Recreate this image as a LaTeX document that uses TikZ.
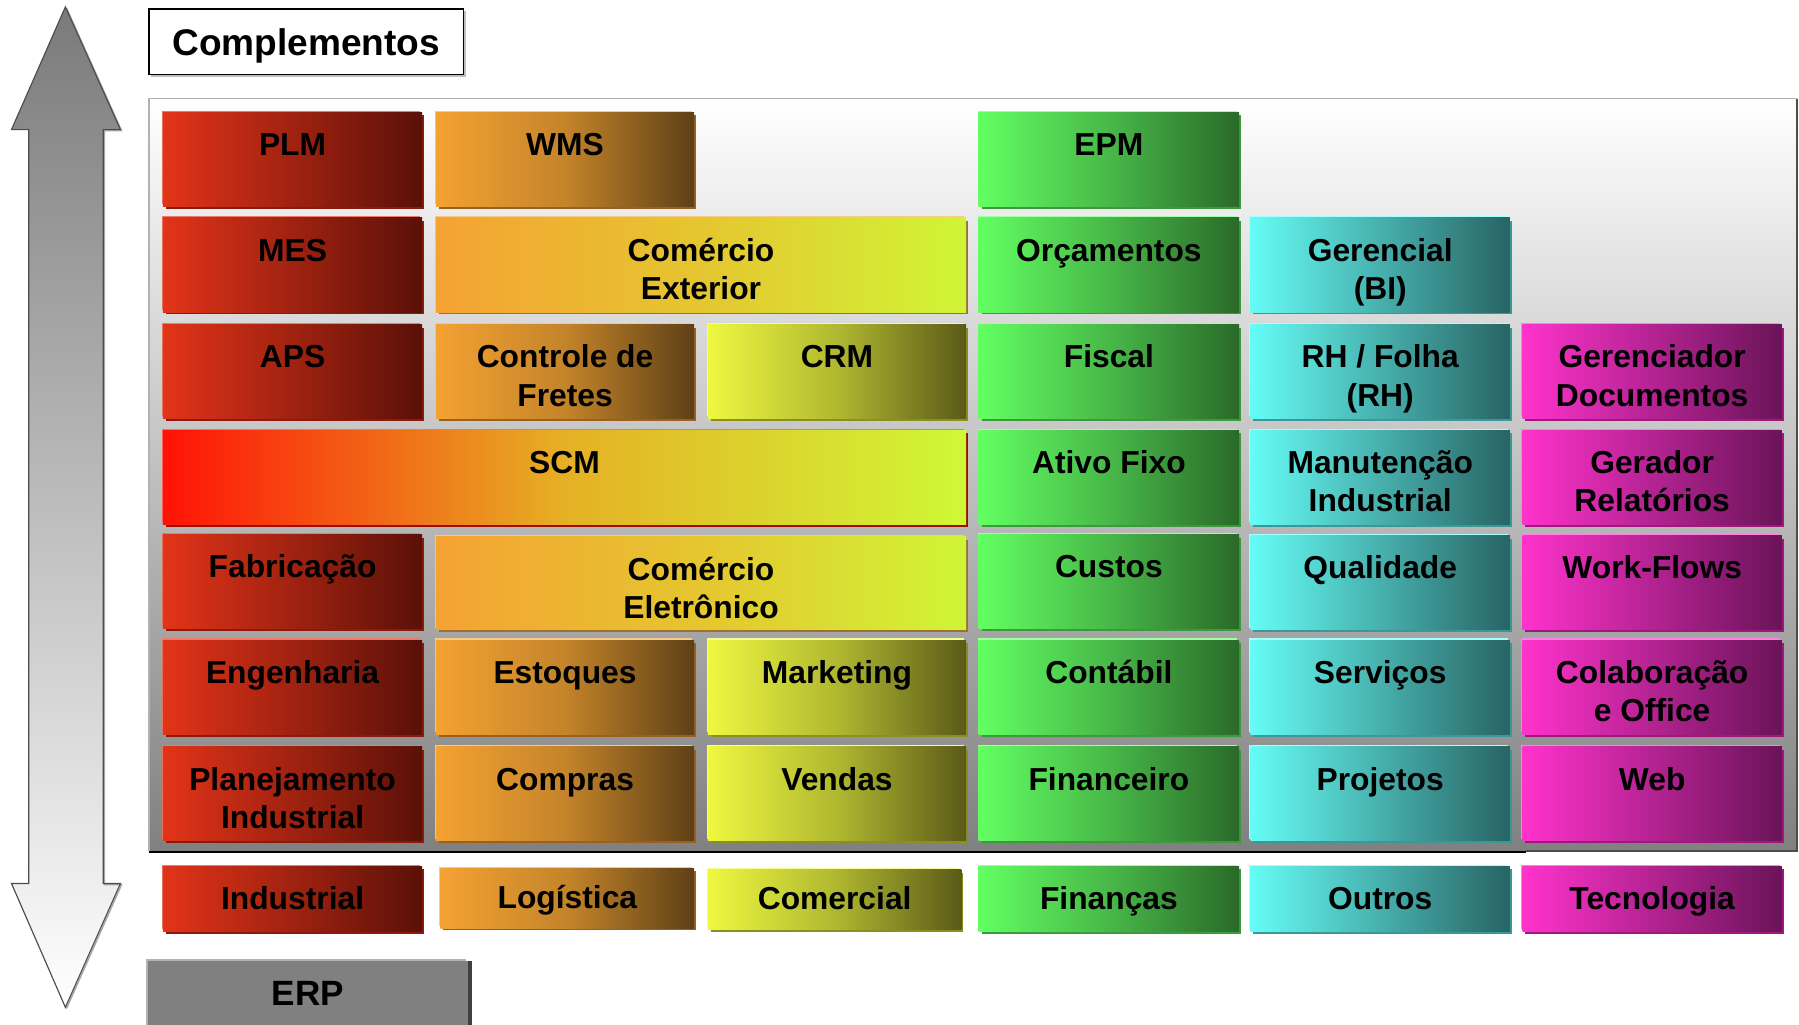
\documentclass[tikz,border=0pt]{standalone}
\usepackage{fontspec}
\setmainfont{Liberation Sans}
\newcommand\boxfont{\fontsize{27.7}{33.5}\selectfont\bfseries}
\newcommand\compfont{\fontsize{32.3}{38}\selectfont\bfseries}
\newcommand\erpfont{\fontsize{30.6}{36}\selectfont\bfseries}
% palettes: A left, B middle, C right, L highlight, S shadow
\definecolor{rA}{HTML}{E23418}\definecolor{rB}{HTML}{A02210}\definecolor{rC}{HTML}{5A1008}\definecolor{rL}{HTML}{EE7A68}\definecolor{rS}{HTML}{8C1A0C}
\definecolor{oA}{HTML}{F4A232}\definecolor{oB}{HTML}{C4842A}\definecolor{oC}{HTML}{5E4016}\definecolor{oL}{HTML}{F8CA88}\definecolor{oS}{HTML}{9A6020}
\definecolor{yA}{HTML}{EEF840}\definecolor{yB}{HTML}{B0B830}\definecolor{yC}{HTML}{5A5A18}\definecolor{yL}{HTML}{F6FB9A}\definecolor{yS}{HTML}{8A9020}
\definecolor{gA}{HTML}{62FF62}\definecolor{gB}{HTML}{48B848}\definecolor{gC}{HTML}{2A6A2A}\definecolor{gL}{HTML}{A4FFA4}\definecolor{gS}{HTML}{3C9A3C}
\definecolor{cA}{HTML}{66FCF6}\definecolor{cB}{HTML}{47B0AD}\definecolor{cC}{HTML}{286464}\definecolor{cL}{HTML}{A6FFFC}\definecolor{cS}{HTML}{3A9898}
\definecolor{mA}{HTML}{FF33CC}\definecolor{mB}{HTML}{B42392}\definecolor{mC}{HTML}{6A1458}\definecolor{mL}{HTML}{FF82E2}\definecolor{mS}{HTML}{A0187E}
\definecolor{eA}{HTML}{F5A233}\definecolor{eB}{HTML}{E5C630}\definecolor{eC}{HTML}{D0F535}\definecolor{eL}{HTML}{F8CA88}\definecolor{eS}{HTML}{A07030}
\definecolor{sA}{HTML}{FF1206}\definecolor{sB}{HTML}{E6B025}\definecolor{sC}{HTML}{D0F835}\definecolor{sL}{HTML}{FF7060}\definecolor{sS}{HTML}{A00C00}
\definecolor{erpgray}{HTML}{808080}
\tikzset{
  box/.style={inner sep=0pt, outer sep=0pt, draw=none, anchor=north west},
  lbl/.style={font=\boxfont, align=center, inner sep=0pt, anchor=north, text=black},
  pr/.style={left color=rA, right color=rC, middle color=rB}, pr sh/.style={fill=rS}, pr hl/.style={fill=rL},
  po/.style={left color=oA, right color=oC, middle color=oB}, po sh/.style={fill=oS}, po hl/.style={fill=oL},
  py/.style={left color=yA, right color=yC, middle color=yB}, py sh/.style={fill=yS}, py hl/.style={fill=yL},
  pg/.style={left color=gA, right color=gC, middle color=gB}, pg sh/.style={fill=gS}, pg hl/.style={fill=gL},
  pc/.style={left color=cA, right color=cC, middle color=cB}, pc sh/.style={fill=cS}, pc hl/.style={fill=cL},
  pm/.style={left color=mA, right color=mC, middle color=mB}, pm sh/.style={fill=mS}, pm hl/.style={fill=mL},
  pe/.style={left color=eA, right color=eC, middle color=eB}, pe sh/.style={fill=eS}, pe hl/.style={fill=eL},
  ps/.style={left color=sA, right color=sC, middle color=sB}, ps sh/.style={fill=sS}, ps hl/.style={fill=sL},
}
% name, x, y, w, h, palette, text (text at top)
\newcommand\modbox[7]{%
  \fill[#6 sh] (#2+2.5,#3+2.5) rectangle (#2+#4+1.5,#3+#5+2);
  \fill[#6 hl] (#2-1,#3-1.5) rectangle (#2+#4-2,#3+#5-2);
  \node[box,#6,minimum width=#4pt,minimum height=#5pt] (#1) at (#2,#3) {};
  \node[lbl] (#1-t) at ([yshift=-14pt]#1.north) {\strut #7};
}
% name, x, y, w, h, palette, text (text centred)
\newcommand\basebox[7]{%
  \fill[#6 sh] (#2+2.5,#3+2.5) rectangle (#2+#4+1.5,#3+#5+2);
  \fill[#6 hl] (#2-1,#3-1.5) rectangle (#2+#4-2,#3+#5-2);
  \node[box,#6,minimum width=#4pt,minimum height=#5pt,font=\boxfont,text height=18pt,text depth=0pt] (#1) at (#2,#3) {#7};
}
\begin{document}
\begin{tikzpicture}[x=1pt,y=-1pt]
\useasboundingbox (0,0) rectangle (1568,893);
% vertical double arrow
\shade[top color=black!52, bottom color=white]
  (57,6) -- (105,113) -- (90,113) -- (90,770) -- (105,770) -- (57,878)
  -- (10,770) -- (25,770) -- (25,113) -- (10,113) -- cycle;
\draw[black!35, line width=1.2]
  (58,7) -- (106,114) -- (91,114) -- (91,771) -- (106,771) -- (58,879);
\draw[black!70, line width=1]
  (57,6) -- (105,113) -- (90,113) -- (90,770) -- (105,770) -- (57,878)
  -- (10,770) -- (25,770) -- (25,113) -- (10,113) -- cycle;
% Complementos box
\fill[black!25] (132,10) rectangle (406,67);
\node[box, fill=white, draw=black, line width=1.5pt, minimum width=274pt, minimum height=57pt, font=\compfont, text height=23pt, text depth=0pt] (comp) at (130,8) {Complementos};
% main panel
\node[box, top color=white, bottom color=erpgray, minimum width=1436pt, minimum height=656pt] (panel) at (130,86) {};
\draw[black!30, line width=1.2] (panel.south west) -- (panel.north west) -- (panel.north east);
\draw[black!70, line width=1.5] (panel.north east) -- (panel.south east) -- (1330,742);
\draw[black, line width=1.8] (1330,743) -- (130,743);
% row 1
\modbox{plm}{142}{98}{226}{82}{pr}{PLM}
\modbox{wms}{380}{98}{225}{82}{po}{WMS}
\modbox{epm}{853}{98}{227}{82}{pg}{EPM}
% row 2
\modbox{mes}{142}{190}{226}{82}{pr}{MES}
\modbox{comext}{380}{190}{462}{82}{pe}{Comércio\\Exterior}
\modbox{orc}{853}{190}{227}{82}{pg}{Orçamentos}
\modbox{ger}{1090}{190}{226}{82}{pc}{Gerencial\\(BI)}
% row 3
\modbox{aps}{142}{283}{226}{82}{pr}{APS}
\modbox{frete}{380}{283}{225}{82}{po}{Controle de\\Fretes}
\modbox{crm}{617}{283}{225}{82}{py}{CRM}
\modbox{fiscal}{853}{283}{227}{82}{pg}{Fiscal}
\modbox{rh}{1090}{283}{226}{82}{pc}{RH / Folha\\(RH)}
\modbox{gdoc}{1327}{283}{226}{82}{pm}{Gerenciador\\Documentos}
% row 4
\modbox{scm}{142}{375}{700}{82}{ps}{SCM}
\modbox{ativo}{853}{375}{227}{82}{pg}{Ativo Fixo}
\modbox{manut}{1090}{375}{226}{82}{pc}{Manutenção\\Industrial}
\modbox{grel}{1327}{375}{226}{82}{pm}{Gerador\\Relatórios}
% row 5
\modbox{fab}{142}{466}{226}{82}{pr}{Fabricação}
\modbox{comele}{380}{468}{462}{81}{pe}{Comércio\\Eletrônico}
\modbox{custos}{853}{466}{227}{82}{pg}{Custos}
\modbox{qual}{1090}{467}{226}{82}{pc}{Qualidade}
\modbox{wf}{1327}{467}{226}{82}{pm}{Work-Flows}
% row 6
\modbox{eng}{142}{558}{226}{82}{pr}{Engenharia}
\modbox{est}{380}{558}{225}{82}{po}{Estoques}
\modbox{mkt}{617}{558}{225}{82}{py}{Marketing}
\modbox{cont}{853}{558}{227}{82}{pg}{Contábil}
\modbox{serv}{1090}{558}{226}{82}{pc}{Serviços}
\modbox{colab}{1327}{558}{226}{82}{pm}{Colaboração\\e Office}
% row 7
\modbox{plan}{142}{651}{226}{82}{pr}{Planejamento\\Industrial}
\modbox{compras}{380}{651}{225}{82}{po}{Compras}
\modbox{vendas}{617}{651}{225}{82}{py}{Vendas}
\modbox{fin}{853}{651}{227}{82}{pg}{Financeiro}
\modbox{proj}{1090}{651}{226}{82}{pc}{Projetos}
\modbox{web}{1327}{651}{226}{82}{pm}{Web}
% base row
\basebox{ind}{142}{755}{226}{57}{pr}{Industrial}
\basebox{log}{384}{757}{221}{52}{po}{Logística}
\basebox{com}{617}{758}{221}{52}{py}{Comercial}
\basebox{finan}{853}{755}{227}{57}{pg}{Finanças}
\basebox{outros}{1090}{755}{226}{57}{pc}{Outros}
\basebox{tec}{1327}{755}{226}{57}{pm}{Tecnologia}
% ERP
\fill[black!30] (127,836) rectangle (406,893);
\fill[black!75] (408,838) rectangle (411,893);
\node[box, fill=erpgray, minimum width=279pt, minimum height=56pt, font=\erpfont, text height=22pt, text depth=0pt] (erp) at (129,837.5) {ERP};
\end{tikzpicture}
\end{document}
